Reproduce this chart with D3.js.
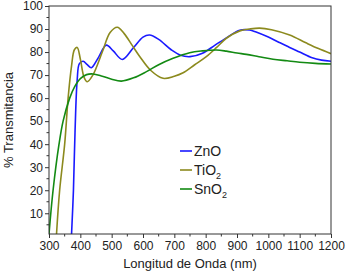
<!DOCTYPE html>
<html>
<head>
<meta charset="utf-8">
<script src="https://cdn.jsdelivr.net/npm/d3@7"></script>
<style>
  body { margin: 0; background: #fff; }
  text { font-family: "Liberation Sans", Arial, sans-serif; }
</style>
</head>
<body>
<svg id="chart"></svg>
<script>
// wavelength (nm) / transmittance (%)
const znoX = [372, 378, 383, 390, 397, 409, 422, 435, 455, 483, 505, 534, 570, 600, 621, 650, 690, 720, 750, 790, 830, 870, 909, 940, 961, 1000, 1030, 1068, 1100, 1140, 1170, 1200];
const znoY = [1, 20, 45, 68, 75, 76, 74.5, 73.2, 77, 83, 80.5, 76.8, 82, 86.5, 87.4, 85.5, 81, 78.6, 78, 79.5, 83, 86.5, 89.5, 89.6, 88.7, 86.5, 84.5, 82, 80, 77.5, 76.5, 76];
const tioX = [324, 334, 350, 361, 372, 381, 390, 400, 412, 422, 440, 470, 495, 518, 540, 565, 590, 625, 664, 700, 728, 765, 802, 835, 866, 909, 940, 972, 1010, 1068, 1120, 1160, 1200];
const tioY = [1, 20, 40, 60, 74, 81, 82, 77, 69, 67.1, 70, 80, 88.5, 90.8, 88, 83, 78, 72, 68.6, 69.5, 71, 74.5, 78, 82, 86, 89.2, 90, 90.4, 89.7, 87.4, 84, 81.5, 79.3];
const snoX = [300, 313, 332, 345, 366, 382, 400, 420, 440, 470, 500, 531, 570, 611, 650, 696, 749, 790, 834, 866, 900, 930, 970, 1015, 1060, 1100, 1150, 1200];
const snoY = [1, 20, 40, 50, 60, 65, 68.5, 70.2, 70.5, 69.5, 68.2, 67.4, 68.8, 71.5, 74.5, 77.3, 79.7, 80.5, 80.9, 80.4, 79.6, 79, 78, 76.9, 76.2, 75.6, 75.1, 74.8];

const seriesNames = ["ZnO", "TiO2", "SnO2"];
const seriesColors = ["#1a1aff", "#8c8a1e", "#138a13"];
const xTicks = [300, 400, 500, 600, 700, 800, 900, 1000, 1100, 1200];
const yTicks = [10, 20, 30, 40, 50, 60, 70, 80, 90, 100];

const W = 346, H = 275;
const margin = { top: 6, right: 15, bottom: 41, left: 49 };
const width = W - margin.left - margin.right;
const height = H - margin.top - margin.bottom;

const svg = d3.select("#chart").attr("width", W).attr("height", H);
const g = svg.append("g").attr("transform", `translate(${margin.left},${margin.top})`);

const x = d3.scaleLinear().domain([300, 1200]).range([0, width]);
const y = d3.scaleLinear().domain([1, 100]).range([height, 0]);

g.append("clipPath").attr("id", "clip")
  .append("rect").attr("width", width).attr("height", height);

const series = [
  { name: seriesNames[0], xs: znoX, ys: znoY, color: seriesColors[0] },
  { name: seriesNames[1], xs: tioX, ys: tioY, color: seriesColors[1] },
  { name: seriesNames[2], xs: snoX, ys: snoY, color: seriesColors[2] }
];

const line = d3.line()
  .x(d => x(d[0]))
  .y(d => y(d[1]))
  .curve(d3.curveCatmullRom.alpha(0.5));

g.append("g").attr("clip-path", "url(#clip)")
  .selectAll("path")
  .data(series)
  .enter()
  .append("path")
  .attr("fill", "none")
  .attr("stroke", d => d.color)
  .attr("stroke-width", 1.6)
  .attr("d", d => line(d.xs.map((v, i) => [v, d.ys[i]])));

// frame
g.append("rect")
  .attr("width", width).attr("height", height)
  .attr("fill", "none").attr("stroke", "#333").attr("stroke-width", 1);

// minor ticks
const xMinor = d3.range(350, 1200, 100);
const yMinor = d3.range(5, 100, 10);
g.append("g").selectAll("line").data(xMinor).enter().append("line")
  .attr("x1", d => x(d)).attr("x2", d => x(d))
  .attr("y1", height).attr("y2", height + 2.5)
  .attr("stroke", "#333");
g.append("g").selectAll("line").data(yMinor).enter().append("line")
  .attr("x1", 0).attr("x2", -2.5)
  .attr("y1", d => y(d)).attr("y2", d => y(d))
  .attr("stroke", "#333");

const xAxis = g.append("g")
  .attr("transform", `translate(0,${height})`)
  .call(d3.axisBottom(x).tickValues(xTicks).tickSize(4).tickPadding(3).tickFormat(d3.format("d")));
const yAxis = g.append("g")
  .call(d3.axisLeft(y).tickValues(yTicks).tickSize(4).tickPadding(2).tickFormat(d3.format("d")));
[xAxis, yAxis].forEach(a => {
  a.select(".domain").remove();
  a.selectAll("line").attr("stroke", "#333");
  a.selectAll("text").attr("fill", "#222").style("font-size", "12px")
    .style("font-family", "'Liberation Sans', Arial, sans-serif");
});

// axis titles
svg.append("text")
  .attr("x", margin.left + width / 2).attr("y", 268)
  .attr("text-anchor", "middle")
  .style("font-size", "13px").attr("fill", "#222")
  .text("Longitud de Onda (nm)");
svg.append("text")
  .attr("transform", `translate(13,${margin.top + height / 2}) rotate(-90)`)
  .attr("text-anchor", "middle")
  .style("font-size", "13px").attr("fill", "#222")
  .text("% Transmitancia");

// legend
const legend = g.append("g").attr("transform", `translate(${180 - margin.left},${151 - margin.top})`);
const legendItem = legend.selectAll("g")
  .data(series)
  .enter()
  .append("g")
  .attr("transform", (d, i) => `translate(0,${i * 19})`);
legendItem.append("line")
  .attr("x1", 0).attr("x2", 12)
  .attr("stroke", d => d.color).attr("stroke-width", 1.6);
const lt = legendItem.append("text")
  .attr("x", 14).attr("dy", "0.36em")
  .style("font-size", "14px").attr("fill", "#222");
lt.each(function (d) {
  const t = d3.select(this);
  const m = d.name.match(/^(.*?)(\d*)$/);
  t.append("tspan").text(m[1]);
  if (m[2]) t.append("tspan").attr("dy", 4).style("font-size", "9px").text(m[2]);
});
</script>
</body>
</html>
